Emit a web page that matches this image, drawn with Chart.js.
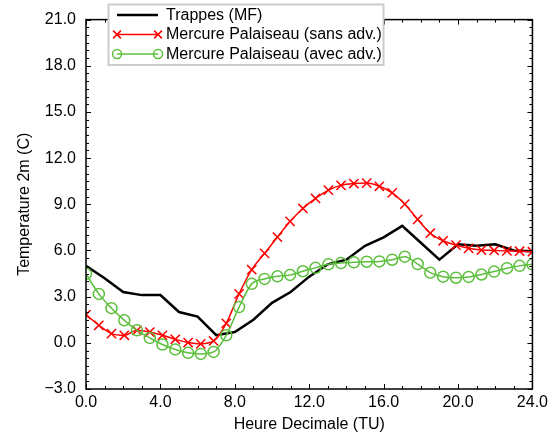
<!DOCTYPE html>
<html>
<head>
<meta charset="utf-8">
<script src="https://cdn.jsdelivr.net/npm/chart.js@4.4.1/dist/chart.umd.min.js"></script>
<style>
  html, body { margin: 0; padding: 0; background: #ffffff; }
  #wrap { width: 552px; height: 436px; }
</style>
</head>
<body>
<div id="wrap"><canvas id="c" width="552" height="436"></canvas></div>
<script>
// ---- Data ----
const seriesLabels = ["Trappes (MF)", "Mercure Palaiseau (sans adv.)", "Mercure Palaiseau (avec adv.)"];

const trappesHours = [0, 1, 2, 3, 4, 5, 6, 7, 8, 9, 10, 11, 12, 13, 14, 15, 16, 17, 18, 19, 20, 21, 22, 23, 24];
const trappesTemp  = [5.0, 4.2, 3.3, 3.1, 3.1, 2.0, 1.7, 0.5, 0.7, 1.5, 2.6, 3.3, 4.3, 5.1, 5.4, 6.3, 6.85, 7.6, 6.5, 5.4, 6.4, 6.3, 6.4, 6.0, 5.95];

const modelHours = [0.0, 0.69, 1.37, 2.06, 2.74, 3.43, 4.11, 4.80, 5.49, 6.17, 6.86, 7.54, 8.23, 8.91, 9.60, 10.29, 10.97, 11.66,
                    12.34, 13.03, 13.71, 14.40, 15.09, 15.77, 16.46, 17.14, 17.83, 18.51, 19.20, 19.89, 20.57, 21.26, 21.94, 22.63, 23.31, 24.0];
const sansAdv = [1.83, 1.14, 0.60, 0.49, 0.81, 0.70, 0.49, 0.23, 0.02, -0.07, 0.12, 1.27, 3.18, 4.75, 5.81, 6.87, 7.89, 8.73,
                 9.38, 9.92, 10.23, 10.35, 10.38, 10.17, 9.74, 9.01, 8.02, 7.12, 6.63, 6.35, 6.14, 6.03, 6.0, 5.97, 5.95, 5.92];
const avecAdv = [4.48, 3.18, 2.25, 1.46, 0.81, 0.32, -0.11, -0.43, -0.65, -0.72, -0.59, 0.49, 2.32, 3.83, 4.15, 4.32, 4.41, 4.65,
                 4.87, 5.10, 5.18, 5.23, 5.27, 5.29, 5.40, 5.60, 5.12, 4.56, 4.30, 4.23, 4.28, 4.44, 4.63, 4.85, 5.00, 5.10];

const xTickLabels = ["0.0", "4.0", "8.0", "12.0", "16.0", "20.0", "24.0"];
const yTickLabels = ["\u22123.0", "0.0", "3.0", "6.0", "9.0", "12.0", "15.0", "18.0", "21.0"];

const toPoints = (xs, ys) => xs.map((x, i) => ({ x: x, y: ys[i] }));

const GREEN = '#5cbf3c';
const RED = '#ff0000';
const FONT = "'Liberation Sans', Arial, Helvetica, sans-serif";

// Frame + inward ticks on all four sides
const frameTicks = {
  id: 'frameTicks',
  afterDatasetsDraw(chart) {
    const { ctx, chartArea: a, scales: { x, y } } = chart;
    ctx.save();
    ctx.strokeStyle = '#000';
    ctx.lineWidth = 1;
    for (let v = x.min; v <= x.max + 1e-9; v += 1) {
      const px = Math.round(x.getPixelForValue(v)) + 0.5;
      const len = (Math.abs(v % 4) < 1e-9) ? 5 : 3;
      ctx.beginPath();
      ctx.moveTo(px, a.bottom); ctx.lineTo(px, a.bottom - len);
      ctx.moveTo(px, a.top); ctx.lineTo(px, a.top + len);
      ctx.stroke();
    }
    for (let k = 0; k <= (y.max - y.min) * 2 + 1e-9; k++) {
      const v = y.min + k * 0.5;
      const py = Math.round(y.getPixelForValue(v)) + 0.5;
      const len = (k % 6 === 0) ? 5 : 3;
      ctx.beginPath();
      ctx.moveTo(a.left, py); ctx.lineTo(a.left + len, py);
      ctx.moveTo(a.right, py); ctx.lineTo(a.right - len, py);
      ctx.stroke();
    }
    ctx.lineWidth = 1.5;
    ctx.strokeRect(a.left, a.top, a.right - a.left, a.bottom - a.top);
    ctx.restore();
  }
};

// Legend box inside the plot (top-left), built from dataset labels
const boxLegend = {
  id: 'boxLegend',
  afterDraw(chart) {
    const { ctx } = chart;
    const bx = 108.5, by = 4.5, bw = 275, bh = 60.5;
    ctx.save();
    ctx.fillStyle = '#ffffff';
    ctx.fillRect(bx, by, bw, bh);
    ctx.strokeStyle = '#cccccc';
    ctx.lineWidth = 2;
    ctx.strokeRect(bx, by, bw, bh);
    const rows = [15, 34.5, 54];
    const x1 = 117, x2 = 158, tx = 166;
    chart.data.datasets.forEach((ds, i) => {
      const ry = rows[i];
      ctx.strokeStyle = ds.borderColor;
      ctx.lineWidth = ds.borderWidth;
      ctx.beginPath(); ctx.moveTo(x1, ry); ctx.lineTo(x2, ry); ctx.stroke();
      if (ds.pointRadius > 0) {
        [x1, x2].forEach(px => {
          ctx.fillStyle = 'rgba(0,0,0,0)';
          ctx.strokeStyle = ds.pointBorderColor;
          ctx.lineWidth = ds.pointBorderWidth;
          Chart.helpers.drawPoint(ctx, {
            pointStyle: ds.pointStyle, radius: ds.pointRadius - 1, rotation: 0,
            borderWidth: ds.pointBorderWidth
          }, px, ry);
        });
      }
      ctx.fillStyle = '#000';
      ctx.font = '16px ' + FONT;
      ctx.textBaseline = 'middle';
      ctx.textAlign = 'left';
      ctx.fillText(ds.label, tx, ry + 0.5);
    });
    ctx.restore();
  }
};

Chart.defaults.font.family = FONT;
Chart.defaults.font.size = 16;
Chart.defaults.color = '#000';

new Chart(document.getElementById('c'), {
  type: 'line',
  data: {
    datasets: [
      {
        label: seriesLabels[0],
        data: toPoints(trappesHours, trappesTemp),
        borderColor: '#000', backgroundColor: '#000',
        borderWidth: 2.5, pointRadius: 0, tension: 0, order: 2, clip: 0
      },
      {
        label: seriesLabels[1],
        data: toPoints(modelHours, sansAdv),
        borderColor: RED, backgroundColor: 'rgba(0,0,0,0)',
        pointBorderColor: RED, borderWidth: 1.5, pointBorderWidth: 1.5,
        pointStyle: 'crossRot', pointRadius: 6.5, tension: 0.4,
        cubicInterpolationMode: 'monotone', order: 1, clip: 0
      },
      {
        label: seriesLabels[2],
        data: toPoints(modelHours, avecAdv),
        borderColor: GREEN, backgroundColor: 'rgba(0,0,0,0)',
        pointBorderColor: GREEN, pointBackgroundColor: 'rgba(0,0,0,0)',
        borderWidth: 1.5, pointBorderWidth: 1.5,
        pointStyle: 'circle', pointRadius: 5.5, tension: 0.4,
        cubicInterpolationMode: 'monotone', order: 0, clip: 0
      }
    ]
  },
  options: {
    responsive: false,
    animation: false,
    devicePixelRatio: 1,
    layout: { padding: { top: 15, right: 18, left: 0, bottom: 0 } },
    plugins: { legend: { display: false }, tooltip: { enabled: false } },
    scales: {
      x: {
        type: 'linear', min: 0, max: 24,
        grid: { display: false, drawTicks: false },
        border: { display: false },
        ticks: {
          stepSize: 4, padding: 4, maxRotation: 0, autoSkip: false,
          callback: (v) => xTickLabels[Math.round(v / 4)]
        },
        title: { display: true, text: 'Heure Decimale (TU)', padding: { top: 0, bottom: 1.5 } },
        afterFit: (s) => { s.height = 47; }
      },
      y: {
        type: 'linear', min: -3, max: 21,
        grid: { display: false, drawTicks: false },
        border: { display: false },
        ticks: {
          stepSize: 3, padding: 10, autoSkip: false,
          callback: (v) => yTickLabels[Math.round((v + 3) / 3)]
        },
        title: { display: true, text: 'Temperature 2m (C)', padding: { top: 15, bottom: 0 } },
        afterFit: (s) => { s.width = 86; }
      }
    }
  },
  plugins: [frameTicks, boxLegend]
});
</script>
</body>
</html>
